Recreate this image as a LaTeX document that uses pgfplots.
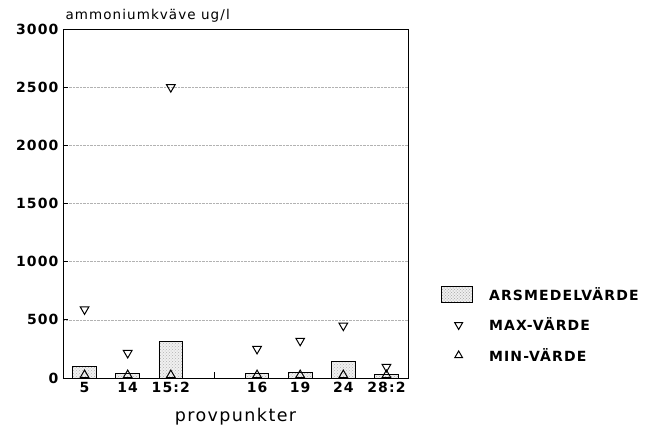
\documentclass[border=0pt]{standalone}
\usepackage{pgfplots}
\pgfplotsset{compat=1.18}
\usetikzlibrary{patterns}
\usepackage{fontspec}
\setmainfont{DejaVu Sans}[LetterSpace=8]
\begin{document}
\begin{tikzpicture}
\useasboundingbox (-63pt,-63pt) rectangle (584pt,378pt);
\begin{axis}[
  at={(0,0)}, anchor=south west,
  scale only axis, width=345pt, height=349pt,
  xmin=-0.5, xmax=7.5, ymin=0, ymax=3000,
  xtick={0,1,2,4,5,6,7},
  xticklabels={5,14,15:2,16,19,24,28:2},
  xtick pos=lower, ytick pos=left,
  ytick={0,500,1000,1500,2000,2500,3000},
  xtick style={draw=none},
  ytick style={black, line width=0.8pt}, major tick length=5pt, tick align=inside,
  ymajorgrids, grid style={densely dotted, gray!60},
  tick label style={font=\fontsize{14}{16}\selectfont\bfseries},
  /pgf/number format/assume math mode=true,
  yticklabel style={/pgf/number format/1000 sep={}, xshift=-1pt},
  xticklabel style={yshift=-1pt},
  xlabel={provpunkter},
  xlabel style={font=\fontsize{17.5}{20}\selectfont, yshift=-8pt},
  title={ammoniumkväve ug/l},
  title style={at={(0,1)}, anchor=south west, font=\fontsize{13.5}{15}\selectfont, yshift=-3pt, xshift=-1pt},
  legend style={at={(1.087,0.272)}, anchor=north west, draw=none, fill=none,
    font=\fontsize{14}{16}\selectfont\bfseries, row sep=12pt},
  legend cell align=left,
  axis line style={line width=0.9pt},
]
\addplot[ybar, bar width=0.55, fill=gray!12, draw=black, line width=0.9pt,
  postaction={pattern=crosshatch dots, pattern color=gray!60},
  legend image code/.code={\draw[fill=gray!12, line width=0.9pt, postaction={pattern=crosshatch dots, pattern color=gray!60}] (0pt,-8pt) rectangle (31pt,8pt);}] coordinates {
 (0,100) (1,40) (2,310) (4,40) (5,50) (6,145) (7,30)};
\addlegendentry{\hspace{14pt}ARSMEDELVÄRDE}
\addplot[only marks, mark=triangle, mark size=5pt, mark options={rotate=180, line width=1pt, black},
  legend image code/.code={\draw[line width=1pt, black] plot[mark=triangle, mark size=4.5pt, mark options={rotate=180}] coordinates {(17pt,0pt)};}] coordinates {
 (0,590) (1,215) (2,2500) (4,250) (5,320) (6,450) (7,95)};
\addlegendentry{\hspace{14pt}MAX-VÄRDE}
\addplot[only marks, mark=triangle, mark size=5pt, mark options={line width=1pt, black},
  legend image code/.code={\draw[line width=1pt, black] plot[mark=triangle, mark size=4.5pt] coordinates {(17pt,0pt)};}] coordinates {
 (0,25) (1,25) (2,25) (4,25) (5,25) (6,25) (7,25)};
\addlegendentry{\hspace{14pt}MIN-VÄRDE}
\draw[line width=0.8pt] (axis cs:3,0) -- ++(0pt,6pt);
\end{axis}
\end{tikzpicture}
\end{document}
